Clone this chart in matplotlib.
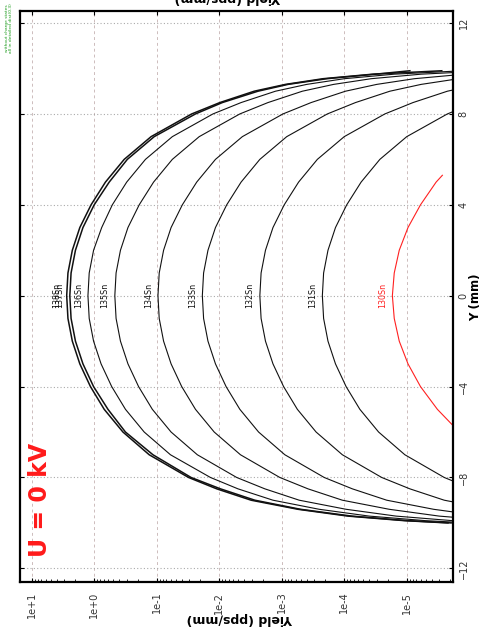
import numpy as np
import matplotlib
matplotlib.use("Agg")
import matplotlib.pyplot as plt
from matplotlib.ticker import LogLocator, NullFormatter

# Y position (mm) where the profiles are sampled
y_mm = [-10.0, -9.9, -9.7, -9.4, -9.0, -8.5, -8.0, -7.0, -6.0, -5.0, -4.0, -3.0, -2.0, -1.0, 0.0,
        1.0, 2.0, 3.0, 4.0, 5.0, 6.0, 7.0, 8.0, 8.5, 9.0, 9.3, 9.55, 9.75, 9.9]

# log10 of yield (pps/mm) for each isotope
sn138 = [-5.66, -4.96, -4.06, -3.26, -2.51, -1.96, -1.51, -0.88, -0.46, -0.16, 0.06, 0.23, 0.35, 0.42, 0.44,
         0.42, 0.35, 0.23, 0.05, -0.18, -0.48, -0.91, -1.56, -2.01, -2.56, -3.06, -3.66, -4.46, -5.56]
sn137 = [-5.71, -5.01, -4.12, -3.30, -2.57, -2.02, -1.55, -0.94, -0.50, -0.22, 0.01, 0.18, 0.30, 0.37, 0.39,
         0.37, 0.30, 0.18, 0.00, -0.24, -0.53, -0.96, -1.62, -2.05, -2.62, -3.10, -3.72, -4.50, -5.05]
sn136 = [-6.00, -5.30, -4.40, -3.60, -2.86, -2.30, -1.86, -1.22, -0.80, -0.50, -0.28, -0.11, 0.01, 0.08, 0.10,
         0.08, 0.01, -0.12, -0.29, -0.52, -0.82, -1.25, -1.90, -2.35, -2.90, -3.40, -4.00, -4.80, -5.90]
sn135 = [-6.43, -5.73, -4.83, -4.03, -3.28, -2.73, -2.28, -1.65, -1.23, -0.93, -0.71, -0.54, -0.42, -0.35, -0.33,
         -0.35, -0.42, -0.54, -0.72, -0.95, -1.25, -1.68, -2.33, -2.78, -3.33, -3.83, -4.43, -5.23, -6.33]
sn134 = [-7.12, -6.42, -5.52, -4.72, -3.97, -3.42, -2.97, -2.34, -1.92, -1.62, -1.40, -1.23, -1.11, -1.04, -1.02,
         -1.04, -1.11, -1.23, -1.41, -1.64, -1.94, -2.37, -3.02, -3.47, -4.02, -4.52, -5.12, -5.92, -7.02]
sn133 = [-7.83, -7.13, -6.23, -5.43, -4.68, -4.13, -3.68, -3.05, -2.63, -2.33, -2.11, -1.94, -1.82, -1.75, -1.73,
         -1.75, -1.82, -1.94, -2.12, -2.35, -2.65, -3.08, -3.73, -4.18, -4.73, -5.23, -5.83, -6.63, -7.73]
sn132 = [-8.75, -8.05, -7.15, -6.35, -5.60, -5.05, -4.60, -3.97, -3.55, -3.25, -3.03, -2.86, -2.74, -2.67, -2.65,
         -2.67, -2.74, -2.86, -3.04, -3.27, -3.57, -4.00, -4.65, -5.10, -5.65, -6.15, -6.75, -7.55, -8.65]
sn131 = [-9.75, -9.05, -8.15, -7.35, -6.60, -6.05, -5.60, -4.97, -4.55, -4.25, -4.03, -3.86, -3.74, -3.67, -3.65,
         -3.67, -3.74, -3.86, -4.04, -4.27, -4.57, -5.00, -5.65, -6.10, -6.65, -7.15, -7.75, -8.55, -9.65]

# the 130Sn profile only covers the centre
y_mm_130 = [-5.8, -5.0, -4.0, -3.0, -2.0, -1.0, 0.0, 1.0, 2.0, 3.0, 4.0, 5.0, 5.3]
sn130 = [-5.77, -5.49, -5.22, -5.02, -4.88, -4.80, -4.77, -4.80, -4.88, -5.02, -5.22, -5.47, -5.57]

names = ["138Sn", "137Sn", "136Sn", "135Sn", "134Sn", "133Sn", "132Sn", "131Sn"]
profiles = [sn138, sn137, sn136, sn135, sn134, sn133, sn132, sn131]

yield_ticks = [1e1, 1e0, 1e-1, 1e-2, 1e-3, 1e-4, 1e-5]
yield_labels = ["1e+1", "1e+0", "1e-1", "1e-2", "1e-3", "1e-4", "1e-5"]
y_ticks = [-12, -8, -4, 0, 4, 8, 12]

fig = plt.figure(figsize=(4.85, 6.34), dpi=100)
ax = fig.add_axes([20 / 485, 1 - 582 / 634, 433 / 485, 571 / 634])

# chart is shown turned by 90 degrees: yield runs to the left, Y runs up
ax.set_xscale("log")
ax.set_xlim(10 ** 1.187, 10 ** -5.74)
ax.set_ylim(-12.6, 12.53)

for name, prof in zip(names, profiles):
    lw = 1.1 if name in ("138Sn", "137Sn") else 0.8
    ax.plot(10 ** np.array(prof), y_mm, color="#111111", lw=lw, zorder=3)
    peak = 10 ** prof[y_mm.index(0.0)]
    ax.annotate(name, xy=(peak, 0), xytext=(-7, 0), textcoords="offset points",
                rotation=90, ha="center", va="center", fontsize=5.8, color="#111111")

ax.plot(10 ** np.array(sn130), y_mm_130, color="#ff2020", lw=0.8, zorder=3)
ax.annotate("130Sn", xy=(10 ** sn130[y_mm_130.index(0.0)], 0), xytext=(-7, 0),
            textcoords="offset points", rotation=90, ha="center", va="center",
            fontsize=5.8, color="#ff2020")

# grid
ax.grid(axis="x", which="major", ls=(0, (3, 3)), color="#cdbcbc", lw=0.7)
ax.grid(axis="y", which="major", ls=(0, (1, 2)), color="#aaaaaa", lw=0.8)

# ticks
ax.set_xticks(yield_ticks)
ax.set_xticklabels(yield_labels)
ax.xaxis.set_minor_locator(LogLocator(base=10, subs=np.arange(2, 10), numticks=20))
ax.xaxis.set_minor_formatter(NullFormatter())
ax.tick_params(axis="x", which="major", direction="in", top=True, length=3, width=0.8,
               labelrotation=90, labelsize=7, labelcolor="#333333", pad=7)
ax.tick_params(axis="x", which="minor", direction="in", top=False, length=2, width=0.6)

ax.yaxis.tick_right()
ax.set_yticks(y_ticks)
ax.tick_params(axis="y", direction="in", left=True, right=True, length=3, width=0.8,
               labelrotation=90, labelsize=7, labelcolor="#333333", pad=4)
for lbl in ax.get_yticklabels():
    lbl.set_va("center")

for sp in ax.spines.values():
    sp.set_linewidth(1.6)
    sp.set_zorder(5)

# axis titles placed as in the turned page
fig.text(476 / 485, 1 - 297 / 634, "Y (mm)", rotation=90, fontsize=8.5, fontweight="bold",
         ha="center", va="center")
fig.text(240 / 485, 1 - 619 / 634, "Yield (pps/mm)", rotation=180, fontsize=9, fontweight="bold",
         ha="center", va="center")

ax.text(0.046, 0.144, "U = 0 kV", transform=ax.transAxes, rotation=90, color="#ff1a1a",
        fontsize=17, fontweight="bold", ha="center", va="center")

# bits from the outside of the original page
fig.text(0.018, 0.955, "without charge states\nall in detailed dist(0.3)", rotation=90,
         fontsize=3.2, color="#1a9a1a", ha="center", va="center", linespacing=1.0)
fig.text(0.47, 1.004, "Yield (pps/mm)", rotation=180, fontsize=9, fontweight="bold",
         ha="center", va="center")

fig.savefig("out.png", dpi=100)
